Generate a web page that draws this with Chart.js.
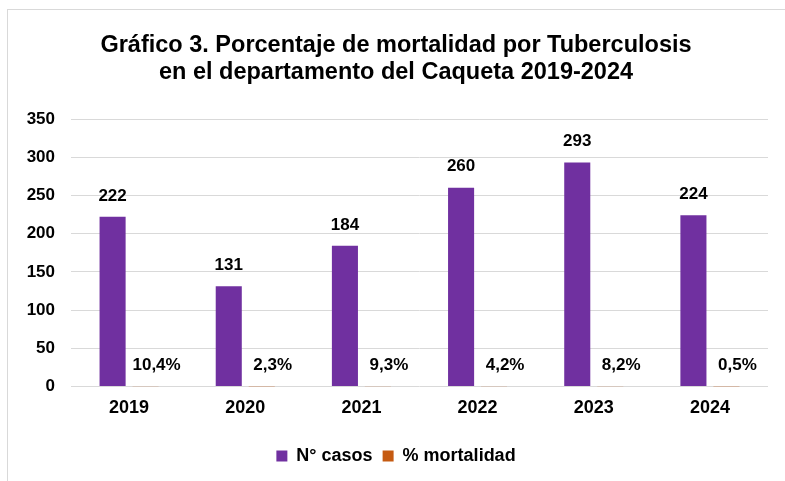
<!DOCTYPE html>
<html>
<head>
<meta charset="utf-8">
<script src="https://cdn.jsdelivr.net/npm/chart.js@4.4.1/dist/chart.umd.min.js"></script>
<style>
  body { margin: 0; background: #fff; }
  #wrap { position: relative; width: 785px; height: 481px; overflow: hidden; background: #fff; }
  #frame { position: absolute; left: 7px; top: 9px; width: 900px; height: 600px; border: 1px solid #d9d9d9; box-sizing: border-box; }
  canvas { position: absolute; left: 0; top: 0; }
</style>
</head>
<body>
<div id="wrap">
  <div id="frame"></div>
  <canvas id="chart" width="785" height="481"></canvas>
</div>
<script>
// Chart data
const years = ['2019', '2020', '2021', '2022', '2023', '2024'];
const casos = [222, 131, 184, 260, 293, 224];
const mortalidad = [0.104, 0.023, 0.093, 0.042, 0.082, 0.005];
const yTicks = [0, 50, 100, 150, 200, 250, 300, 350];

const FONT = '"Liberation Sans", Arial, sans-serif';

// Format a fraction as "10,4%"
function fmtPct(v) {
    return (v * 100).toFixed(1).replace('.', ',') + '%';
}

// Plugin to write the value labels above each bar
const valueLabels = {
    id: 'valueLabels',
    afterDatasetsDraw(chart) {
        const ctx = chart.ctx;
        ctx.save();
        ctx.font = 'bold 17px ' + FONT;
        ctx.fillStyle = '#000';
        ctx.textAlign = 'center';
        ctx.textBaseline = 'middle';
        chart.data.datasets.forEach((ds, i) => {
            const meta = chart.getDatasetMeta(i);
            meta.data.forEach((bar, j) => {
                const v = ds.data[j];
                const text = i === 0 ? String(v) : fmtPct(v);
                const dx = i === 0 ? 0 : 11;
                ctx.fillText(text, bar.x + dx, bar.y - 21);
            });
        });
        ctx.restore();
    }
};

new Chart(document.getElementById('chart'), {
    type: 'bar',
    data: {
        labels: years,
        datasets: [
            {
                label: 'N° casos',
                data: casos,
                backgroundColor: '#7030a0',
                categoryPercentage: 0.568,
                barPercentage: 0.79
            },
            {
                label: '% mortalidad',
                data: mortalidad,
                backgroundColor: '#c55a11',
                inflateAmount: 0,
                categoryPercentage: 0.568,
                barPercentage: 0.79
            }
        ]
    },
    options: {
        responsive: false,
        animation: false,
        layout: { padding: { left: 24, right: 17, top: 0, bottom: 6 } },
        plugins: {
            title: {
                display: true,
                text: ['Gráfico 3. Porcentaje de mortalidad por Tuberculosis',
                       'en el departamento del Caqueta 2019-2024'],
                color: '#000',
                font: { family: FONT, size: 23.5, weight: 'bold', lineHeight: 1.15 },
                padding: { top: 32, bottom: 33 }
            },
            legend: {
                position: 'bottom',
                labels: {
                    color: '#000',
                    boxWidth: 11,
                    boxHeight: 11,
                    padding: 10,
                    font: { family: FONT, size: 18, weight: 'bold' }
                }
            },
            tooltip: { enabled: false }
        },
        scales: {
            x: {
                grid: { display: false, drawTicks: false },
                border: { display: false },
                ticks: {
                    color: '#000',
                    padding: 11,
                    font: { family: FONT, size: 18, weight: 'bold' }
                },
                afterFit(scale) { scale.height += 7; }
            },
            y: {
                min: 0,
                max: 350,
                afterBuildTicks(scale) {
                    scale.ticks = yTicks.map(v => ({ value: v }));
                },
                grid: { color: '#d9d9d9', lineWidth: 1, drawTicks: false },
                border: { display: false },
                ticks: {
                    color: '#000',
                    padding: 16,
                    font: { family: FONT, size: 17, weight: 'bold' }
                },
                afterFit(scale) { scale.width = 47; }
            }
        }
    },
    plugins: [valueLabels]
});
</script>
</body>
</html>
